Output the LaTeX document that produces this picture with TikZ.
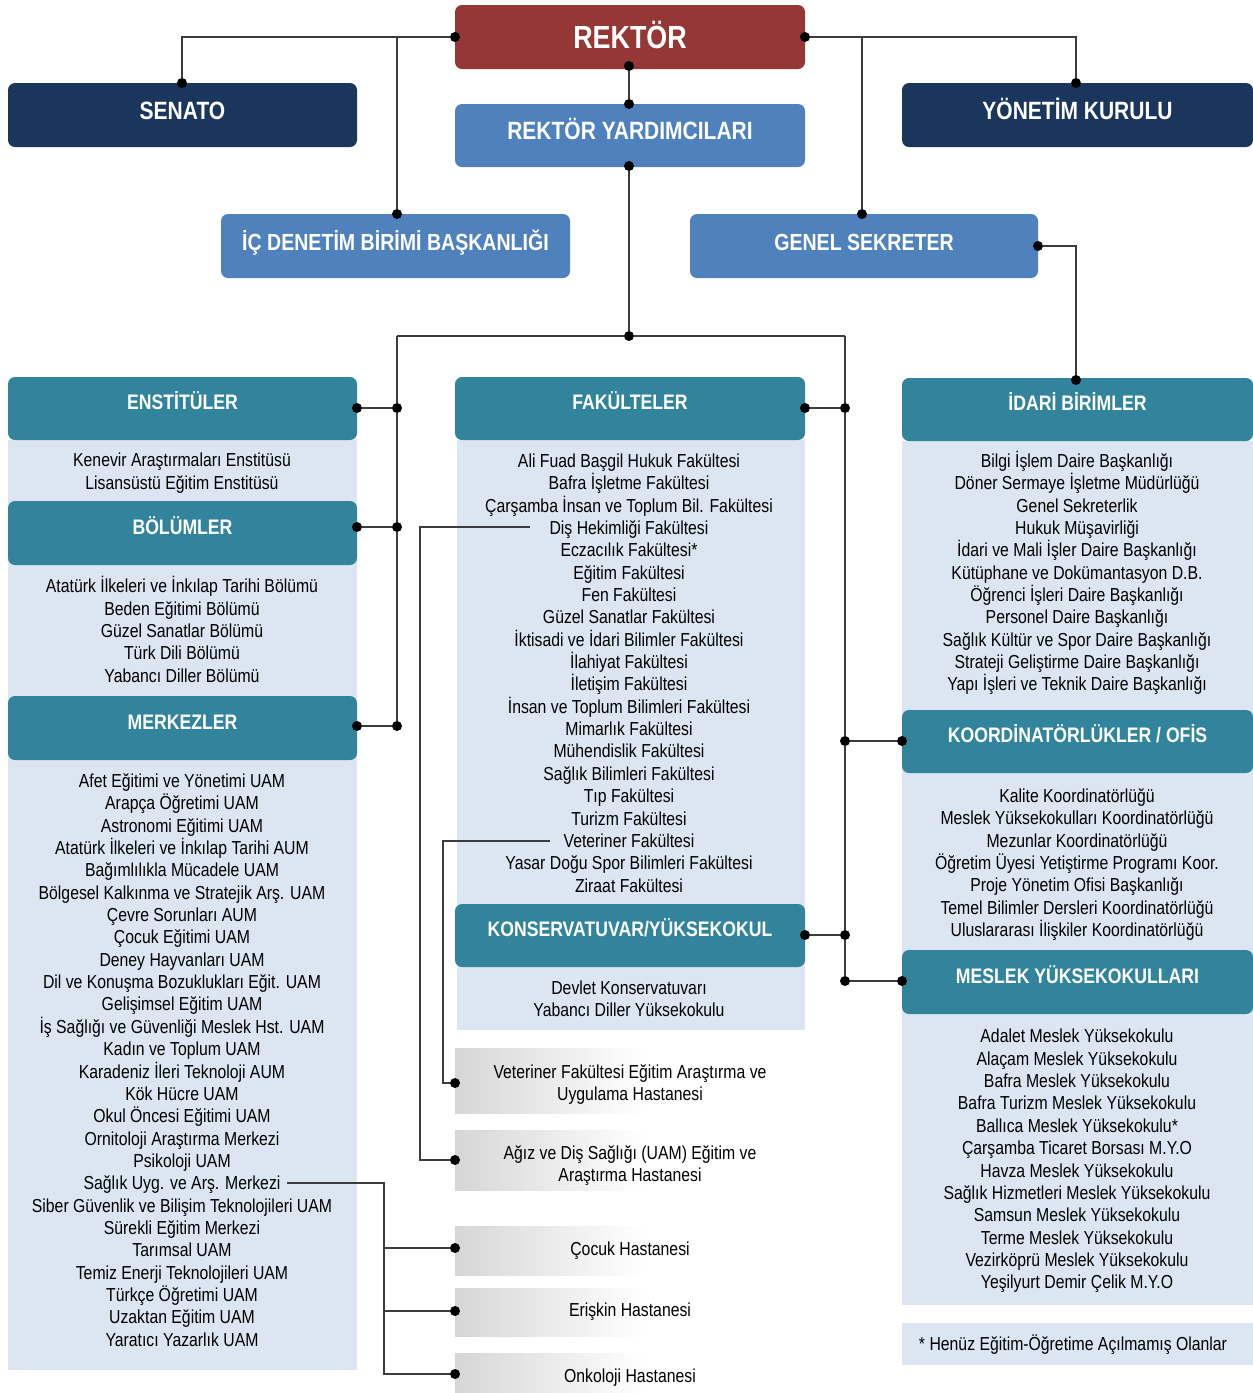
\documentclass[tikz,border=0pt]{standalone}
\usepackage{fontspec}
\setmainfont{Liberation Sans}[FakeStretch=0.84]
\usetikzlibrary{positioning}

\definecolor{rektred}{HTML}{953735}
\definecolor{navyblue}{HTML}{1B365D}
\definecolor{midblue}{HTML}{4F81BD}
\definecolor{tealhead}{HTML}{31849B}
\definecolor{paleblue}{HTML}{DCE6F2}
\definecolor{wiregray}{HTML}{3C3C3C}

\pgfdeclarehorizontalshading{hospfade}{100bp}{color(0bp)=(black!16); color(25bp)=(black!16); color(52bp)=(white); color(100bp)=(white)}

\newcommand{\listfont}{\fontsize{18.8}{22.35}\selectfont}

\tikzset{
  unitbox/.style={rounded corners=7pt,inner sep=0pt,minimum width=349pt,minimum height=64pt,text=white},
  rektbox/.style={unitbox,fill=rektred,minimum width=350pt,font=\bfseries\fontsize{32}{36}\selectfont,text height=22pt,text depth=0pt},
  navybox/.style={unitbox,fill=navyblue,font=\bfseries\fontsize{25}{28}\selectfont,text height=18pt,text depth=10pt},
  bluebox/.style={unitbox,fill=midblue,font=\bfseries\fontsize{25}{28}\selectfont,text height=18pt,text depth=10pt},
  smallblue/.style={bluebox,font=\bfseries\fontsize{23.3}{26}\selectfont,text height=17pt,text depth=9pt},
  headbox/.style={unitbox,fill=tealhead,minimum height=63pt,font=\bfseries\fontsize{21}{24}\selectfont,text height=15pt,text depth=13pt},
  listtext/.style={align=center,inner sep=0pt,font=\listfont},
  hospbox/.style={rectangle,inner sep=0pt,minimum width=350pt,shading=hospfade,shading angle=0,align=center,font=\listfont},
  jdot/.style={circle,fill=black,inner sep=0pt,minimum size=10pt},
  wire/.style={draw=wiregray,line width=1.3pt},
  thinwire/.style={draw=wiregray,line width=1.1pt},
}

\begin{document}
\begin{tikzpicture}[x=1pt,y=-1pt]
\useasboundingbox (0,0) rectangle (1253,1393);

% pale column backgrounds
\fill[paleblue] (8,440) rectangle (357,1370);
\fill[paleblue] (457,440) rectangle (805,1030);
\fill[paleblue] (902,441) rectangle (1253,1305);
\fill[paleblue] (902,1323) rectangle (1253,1365);

% top level
\draw (630,37) node [rektbox] (rek) {REKTÖR};
\draw (182.5,115) node [navybox] (sen) {SENATO};
\draw (1077.5,115) node [navybox,minimum width=351pt] (yon) {YÖNETİM KURULU};
\draw (630,135.5) node [bluebox,minimum width=350pt,minimum height=63pt] (ryd) {REKTÖR YARDIMCILARI};
\draw (395.5,246) node [smallblue] (icd) {İÇ DENETİM BİRİMİ BAŞKANLIĞI};
\draw (864,246) node [smallblue,minimum width=348pt] (gsk) {GENEL SEKRETER};

% unit headers
\draw (182.5,408.5) node [headbox] (ens) {ENSTİTÜLER};
\draw (182.5,533) node [headbox,minimum height=64pt] (bol) {BÖLÜMLER};
\draw (182.5,728) node [headbox,minimum height=64pt] (mer) {MERKEZLER};
\draw (630,408.5) node [headbox,minimum width=350pt] (fak) {FAKÜLTELER};
\draw (630,935.5) node [headbox,minimum width=350pt] (kon) {KONSERVATUVAR/YÜKSEKOKUL};
\draw (1077.5,409.5) node [headbox,minimum width=351pt] (idr) {İDARİ BİRİMLER};
\draw (1077.5,741.5) node [headbox,minimum width=351pt] (koo) {KOORDİNATÖRLÜKLER / OFİS};
\draw (1077.5,982) node [headbox,minimum width=351pt,minimum height=64pt] (myo) {MESLEK YÜKSEKOKULLARI};

% lists
\draw (182,473) node [listtext] (ensl) {Kenevir Araştırmaları Enstitüsü\\Lisansüstü Eğitim Enstitüsü};
\draw (182,629.5) node [listtext] (boll) {Atatürk İlkeleri ve İnkılap Tarihi Bölümü\\Beden Eğitimi Bölümü\\Güzel Sanatlar Bölümü\\Türk Dili Bölümü\\Yabancı Diller Bölümü};
\draw (182,1060) node [listtext] (merl) {Afet Eğitimi ve Yönetimi UAM\\Arapça Öğretimi UAM\\Astronomi Eğitimi UAM\\Atatürk İlkeleri ve İnkılap Tarihi AUM\\Bağımlılıkla Mücadele UAM\\Bölgesel Kalkınma ve Stratejik Arş. UAM\\Çevre Sorunları AUM\\Çocuk Eğitimi UAM\\Deney Hayvanları UAM\\Dil ve Konuşma Bozuklukları Eğit. UAM\\Gelişimsel Eğitim UAM\\İş Sağlığı ve Güvenliği Meslek Hst. UAM\\Kadın ve Toplum UAM\\Karadeniz İleri Teknoloji AUM\\Kök Hücre UAM\\Okul Öncesi Eğitimi UAM\\Ornitoloji Araştırma Merkezi\\Psikoloji UAM\\Sağlık Uyg. ve Arş. Merkezi\\Siber Güvenlik ve Bilişim Teknolojileri UAM\\Sürekli Eğitim Merkezi\\Tarımsal UAM\\Temiz Enerji Teknolojileri UAM\\Türkçe Öğretimi UAM\\Uzaktan Eğitim UAM\\Yaratıcı Yazarlık UAM};
\draw (629,673) node [listtext] (fakl) {Ali Fuad Başgil Hukuk Fakültesi\\Bafra İşletme Fakültesi\\Çarşamba İnsan ve Toplum Bil. Fakültesi\\Diş Hekimliği Fakültesi\\Eczacılık Fakültesi*\\Eğitim Fakültesi\\Fen Fakültesi\\Güzel Sanatlar Fakültesi\\İktisadi ve İdari Bilimler Fakültesi\\İlahiyat Fakültesi\\İletişim Fakültesi\\İnsan ve Toplum Bilimleri Fakültesi\\Mimarlık Fakültesi\\Mühendislik Fakültesi\\Sağlık Bilimleri Fakültesi\\Tıp Fakültesi\\Turizm Fakültesi\\Veteriner Fakültesi\\Yasar Doğu Spor Bilimleri Fakültesi\\Ziraat Fakültesi};
\draw (629,999) node [listtext] (konl) {Devlet Konservatuvarı\\Yabancı Diller Yüksekokulu};
\draw (1077,573) node [listtext] (idrl) {Bilgi İşlem Daire Başkanlığı\\Döner Sermaye İşletme Müdürlüğü\\Genel Sekreterlik\\Hukuk Müşavirliği\\İdari ve Mali İşler Daire Başkanlığı\\Kütüphane ve Dokümantasyon D.B.\\Öğrenci İşleri Daire Başkanlığı\\Personel Daire Başkanlığı\\Sağlık Kültür ve Spor Daire Başkanlığı\\Strateji Geliştirme Daire Başkanlığı\\Yapı İşleri ve Teknik Daire Başkanlığı};
\draw (1077,864.5) node [listtext] (kool) {Kalite Koordinatörlüğü\\Meslek Yüksekokulları Koordinatörlüğü\\Mezunlar Koordinatörlüğü\\Öğretim Üyesi Yetiştirme Programı Koor.\\Proje Yönetim Ofisi Başkanlığı\\Temel Bilimler Dersleri Koordinatörlüğü\\Uluslararası İlişkiler Koordinatörlüğü};
\draw (1077,1161) node [listtext] (myol) {Adalet Meslek Yüksekokulu\\Alaçam Meslek Yüksekokulu\\Bafra Meslek Yüksekokulu\\Bafra Turizm Meslek Yüksekokulu\\Ballıca Meslek Yüksekokulu*\\Çarşamba Ticaret Borsası M.Y.O\\Havza Meslek Yüksekokulu\\Sağlık Hizmetleri Meslek Yüksekokulu\\Samsun Meslek Yüksekokulu\\Terme Meslek Yüksekokulu\\Vezirköprü Meslek Yüksekokulu\\Yeşilyurt Demir Çelik M.Y.O};
\draw (1073,1345) node [listtext] (note) {* Henüz Eğitim-Öğretime Açılmamış Olanlar};

% hospitals
\draw (630,1080.5) node [hospbox,minimum height=65pt,text height=44pt,text depth=4pt] (hvet) {Veteriner Fakültesi Eğitim Araştırma ve\\Uygulama Hastanesi};
\draw (630,1160) node [hospbox,minimum height=60pt,text height=43pt,text depth=0pt] (hdis) {Ağız ve Diş Sağlığı (UAM) Eğitim ve\\Araştırma Hastanesi};
\draw (630,1250.5) node [hospbox,minimum height=49pt] (hcoc) {Çocuk Hastanesi};
\draw (630,1312) node [hospbox,minimum height=48pt] (heri) {Erişkin Hastanesi};
\draw (630,1373) node [hospbox,minimum height=40pt,text height=18pt,text depth=0pt] (honk) {Onkoloji Hastanesi};

% joints
\node [jdot] (dRekW) at (455,37) {};
\node [jdot] (dRekE) at (805,37) {};
\node [jdot] (dRekS) at (629,66) {};
\node [jdot] (dSen) at (182,83) {};
\node [jdot] (dYon) at (1076,83) {};
\node [jdot] (dRydN) at (629,104) {};
\node [jdot] (dRydS) at (629,166) {};
\node [jdot] (dIcd) at (397,214) {};
\node [jdot] (dGsk) at (862,214) {};
\node [jdot] (dGskE) at (1038,246) {};
\node [jdot] (dIdr) at (1076,380) {};
\node [jdot] (jMid) at (629,336) {};
\node [jdot] (dEns) at (357,408) {};
\node [jdot] (dBol) at (357,527) {};
\node [jdot] (dMer) at (357,726) {};
\node [jdot] (jL1) at (397,408) {};
\node [jdot] (jL2) at (397,527) {};
\node [jdot] (jL3) at (397,726) {};
\node [jdot] (dFak) at (805,408) {};
\node [jdot] (dKon) at (805,935) {};
\node [jdot] (dKoo) at (902,741) {};
\node [jdot] (dMyo) at (902,981) {};
\node [jdot] (jR1) at (845,408) {};
\node [jdot] (jR2) at (845,741) {};
\node [jdot] (jR3) at (845,935) {};
\node [jdot] (jR4) at (845,981) {};
\node [jdot] (dH1) at (455,1083) {};
\node [jdot] (dH2) at (455,1160) {};
\node [jdot] (dH3) at (455,1248) {};
\node [jdot] (dH4) at (455,1311) {};
\node [jdot] (dH5) at (455,1374) {};

\coordinate (cIcd) at (397,37);
\coordinate (cGsk) at (862,37);
\coordinate (cL) at (397,336);
\coordinate (cR) at (845,336);
\coordinate (cDis) at (530,527);
\coordinate (cVet) at (550,841);
\coordinate (cSag) at (287,1183);
\coordinate (kSag) at (384,1183);

% connectors
\path[wire]
  (dRekW) -| (dSen)
  (cIcd) -- (dIcd)
  (dRekE) -| (dYon)
  (cGsk) -- (dGsk)
  (dRekS) -- (dRydN)
  (dRydS) -- (jMid)
  (dGskE) -| (dIdr)
  (cL) -- (jMid) -- (cR)
  (cL) -- (jL1) -- (jL2) -- (jL3)
  (cR) -- (jR1) -- (jR2) -- (jR3) -- (jR4)
  (dEns) -- (jL1)
  (dBol) -- (jL2)
  (dMer) -- (jL3)
  (dFak) -- (jR1)
  (jR2) -- (dKoo)
  (dKon) -- (jR3)
  (jR4) -- (dMyo);
\path[thinwire]
  (cDis) -- ++(-110,0) |- (dH2)
  (cVet) -- ++(-107,0) |- (dH1)
  (cSag) -- (kSag) |- (dH5)
  (kSag) |- (dH3)
  (kSag) |- (dH4);
\end{tikzpicture}
\end{document}
